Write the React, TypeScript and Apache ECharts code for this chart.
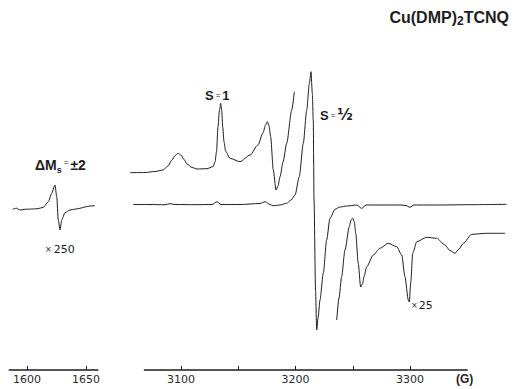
import React, { useEffect, useRef } from "react";
import * as echarts from "echarts";

// ΔMs = ±2 half-field line (×250), field in G, signal in arbitrary units
const halfField = [1587.9, 1591.0, 1594.1, 1599.0, 1605.3, 1609.5, 1613.8, 1618.1, 1620.9, 1623.7, 1625.2, 1626.5, 1628.0, 1629.4, 1632.2, 1636.4, 1640.5, 1644.9, 1649.0, 1653.4, 1657.6];
const halfSignal = [-5.3, -4.2, -6.0, -5.2, -5.0, -4.6, -3.3, 2.3, 10.7, 19.0, 7.3, -16.0, -26.0, -16.0, -8.7, -6.0, -5.2, -4.3, -3.0, -2.0, -1.7];

// S = 1 region, ×25 trace (low-field part)
const gainLowField = [3055.5, 3068.6, 3077.3, 3084.3, 3088.6, 3092.1, 3094.8, 3097.4, 3100.0, 3102.6, 3105.2, 3109.6, 3114.0, 3122.7, 3127.9, 3129.7, 3131.0, 3132.3, 3133.6, 3134.7, 3135.5, 3136.4, 3137.6, 3138.9, 3142.8, 3151.5, 3160.3, 3167.2, 3171.6, 3173.8, 3175.4, 3176.9, 3178.3, 3180.6, 3183.0, 3184.7, 3186.5, 3189.1, 3192.3, 3196.7, 3199.0];
const gainLowSignal = [31.3, 31.5, 32.5, 34.0, 38.0, 44.0, 48.5, 50.7, 49.0, 44.5, 40.0, 36.5, 35.0, 35.3, 37.3, 42.0, 52.0, 77.3, 94.0, 100.7, 94.0, 77.3, 62.0, 53.0, 45.7, 42.3, 49.0, 59.0, 71.0, 79.0, 82.3, 78.0, 67.3, 34.0, 14.0, 18.0, 27.3, 42.0, 60.7, 94.0, 112.3];

// ×1 trace (S = 1/2 line)
const mainField = [3058.1, 3072.9, 3086.0, 3090.4, 3094.8, 3112.2, 3127.1, 3131.4, 3134.9, 3151.5, 3169.0, 3173.4, 3177.7, 3180.3, 3186.5, 3192.3, 3196.1, 3199.6, 3203.3, 3206.8, 3209.8, 3212.1, 3213.5, 3214.7, 3215.5, 3216.2, 3217.5, 3218.5, 3219.7, 3221.4, 3224.3, 3227.2, 3230.1, 3234.5, 3238.9, 3244.7, 3253.5, 3257.8, 3261.6, 3273.8, 3291.3, 3296.5, 3300.0, 3303.5, 3326.2, 3352.4, 3384.4];
const mainSignal = [-0.5, -0.5, -0.8, 0.3, -0.5, -0.7, -0.5, 2.3, -0.5, -0.5, 0.5, 2.3, -0.5, -1.7, -1.0, 0.7, 4.0, 9.0, 27.3, 60.7, 94.0, 120.7, 132.3, 110.7, 84.0, 4.0, -86.0, -126.0, -114.0, -96.0, -69.0, -36.0, -14.3, -5.3, -3.0, -2.0, -1.0, -4.3, -1.0, -1.0, -1.0, -1.5, -3.3, -1.0, -1.0, -0.7, -0.3];

// ×25 trace (high-field part)
const gainHighField = [3236.0, 3238.0, 3240.3, 3243.2, 3247.0, 3248.5, 3250.0, 3251.4, 3252.6, 3254.8, 3256.9, 3258.5, 3259.8, 3262.2, 3268.0, 3273.8, 3281.0, 3288.4, 3292.8, 3295.6, 3298.5, 3299.4, 3300.6, 3302.4, 3305.9, 3314.6, 3323.3, 3330.6, 3334.9, 3339.3, 3342.8, 3346.6, 3353.9, 3367.0, 3383.0];
const gainHighSignal = [-116.0, -94.0, -72.7, -46.0, -22.7, -16.0, -14.3, -18.0, -29.3, -59.3, -83.0, -80.0, -73.0, -62.7, -51.0, -44.3, -39.3, -42.7, -51.0, -72.7, -96.0, -98.0, -79.3, -49.3, -37.7, -33.3, -34.3, -41.0, -46.5, -49.3, -45.0, -39.3, -30.3, -29.3, -29.3];

// Axis ticks and labels
const halfTicks = [1600, 1650];
const mainTicks = [3100, 3150, 3200, 3250, 3300];
const mainTickLabels = [3100, 3200, 3300];

const zip = (xs: number[], ys: number[]) => xs.map((x, i) => [x, ys[i]]);

const INK = "#1e1e1e";
const TOP = 54;
const HEIGHT = 316;
const YMIN = -166;
const YMAX = 150;

const boldFont = "Liberation Sans, Arial, sans-serif";
const tickFont = "DejaVu Sans, sans-serif";

export default function App() {
  const ref = useRef<HTMLDivElement>(null);
  useEffect(() => {
    if (!ref.current) return;
    const chart = echarts.init(ref.current, null, { renderer: "svg" });
    const lineSeries = (data: number[][], axis: number) => ({
      type: "line",
      xAxisIndex: axis,
      yAxisIndex: axis,
      data,
      symbol: "none",
      showSymbol: false,
      smooth: 0.25,
      smoothMonotone: "x",
      clip: false,
      lineStyle: { color: INK, width: 1 },
      itemStyle: { color: INK },
      silent: true,
    });
    const yAxisBase = { type: "value", min: YMIN, max: YMAX, show: false };
    const fieldAxis = (grid: number, min: number, max: number, ticks: number[], labels: number[]) => ({
      type: "value",
      gridIndex: grid,
      min,
      max,
      axisLine: { show: true, onZero: false, lineStyle: { color: INK, width: 1.5 } },
      axisTick: { show: true, inside: true, length: 4, customValues: ticks, lineStyle: { color: INK, width: 1 } },
      axisLabel: {
        show: true,
        customValues: labels,
        margin: 4,
        color: "#2a2a2a",
        fontSize: 11,
        fontFamily: tickFont,
        formatter: (v: number) => String(v),
      },
      splitLine: { show: false },
    });
    const option: any = {
      animation: false,
      backgroundColor: "#ffffff",
      grid: [
        { left: 9.3, width: 88.5, top: TOP, height: HEIGHT, outerBoundsMode: "none" },
        { left: 129.5, width: 377.8, top: TOP, height: HEIGHT, outerBoundsMode: "none" },
        { left: 144.4, width: 322.9, top: TOP, height: HEIGHT, outerBoundsMode: "none" },
      ],
      xAxis: [
        fieldAxis(0, 1585, 1660, halfTicks, halfTicks),
        { type: "value", gridIndex: 1, min: 3055, max: 3385, show: false },
        fieldAxis(2, 3068, 3350, mainTicks, mainTickLabels),
      ],
      yAxis: [
        { ...yAxisBase, gridIndex: 0 },
        { ...yAxisBase, gridIndex: 1 },
        { ...yAxisBase, gridIndex: 2 },
      ],
      series: [
        lineSeries(zip(halfField, halfSignal), 0),
        lineSeries(zip(gainLowField, gainLowSignal), 1),
        lineSeries(zip(mainField, mainSignal), 1),
        lineSeries(zip(gainHighField, gainHighSignal), 1),
      ],
      graphic: [
        {
          type: "text",
          x: 509,
          y: 18,
          style: {
            text: "{a|Cu(DMP)}{s|2}{a|TCNQ}",
            textAlign: "right",
            textVerticalAlign: "middle",
            rich: {
              a: { fontSize: 16, fontWeight: "bold", fontFamily: boldFont, fill: INK, lineHeight: 18, verticalAlign: "top" },
              s: { fontSize: 12, fontWeight: "bold", fontFamily: boldFont, fill: INK, lineHeight: 12, padding: [10, 0, 0, 0], verticalAlign: "bottom" },
            },
          },
        },
        {
          type: "text",
          x: 205,
          y: 95,
          style: {
            text: "{b|S}{e|=}{b|1}",
            textVerticalAlign: "middle",
            rich: {
              b: { fontSize: 13, fontWeight: "bold", fontFamily: boldFont, fill: INK },
              e: { fontSize: 8, fontFamily: boldFont, fill: INK, padding: [0, 2, 0, 2] },
            },
          },
        },
        {
          type: "text",
          x: 320,
          y: 115,
          style: {
            text: "{b|S}{e|=}{f|½}",
            textVerticalAlign: "middle",
            rich: {
              b: { fontSize: 13, fontWeight: "bold", fontFamily: boldFont, fill: INK },
              e: { fontSize: 8, fontFamily: boldFont, fill: INK, padding: [0, 2, 0, 2] },
              f: { fontSize: 15, fontWeight: "bold", fontFamily: "DejaVu Sans, sans-serif", fill: INK },
            },
          },
        },
        {
          type: "text",
          x: 35,
          y: 166,
          style: {
            text: "{b|ΔM}{s|s}{e|=}{b|±2}",
            textVerticalAlign: "middle",
            rich: {
              b: { fontSize: 14, fontWeight: "bold", fontFamily: boldFont, fill: INK, lineHeight: 16, verticalAlign: "top" },
              s: { fontSize: 9, fontWeight: "bold", fontFamily: boldFont, fill: INK, lineHeight: 9, padding: [9, 0, 0, 0], verticalAlign: "bottom" },
              e: { fontSize: 8, fontFamily: boldFont, fill: INK, padding: [0, 2, 0, 2], lineHeight: 16, verticalAlign: "top" },
            },
          },
        },
        {
          type: "text",
          x: 45,
          y: 249,
          style: {
            text: "{x|×}{n|250}",
            textVerticalAlign: "middle",
            rich: {
              x: { fontSize: 8, fontFamily: tickFont, fill: INK, padding: [0, 2, 0, 0] },
              n: { fontSize: 11, fontFamily: tickFont, fill: INK },
            },
          },
        },
        {
          type: "text",
          x: 411,
          y: 305,
          style: {
            text: "{x|×}{n|25}",
            textVerticalAlign: "middle",
            rich: {
              x: { fontSize: 8, fontFamily: tickFont, fill: INK, padding: [0, 1, 0, 0] },
              n: { fontSize: 11, fontFamily: tickFont, fill: INK },
            },
          },
        },
        {
          type: "text",
          x: 456,
          y: 379,
          style: {
            text: "(G)",
            textVerticalAlign: "middle",
            fontSize: 12,
            fontWeight: "bold",
            fontFamily: boldFont,
            fill: INK,
          },
        },
      ],
    };
    chart.setOption(option);
    return () => chart.dispose();
  }, []);
  return <div ref={ref} style={{ position: "fixed", left: 0, top: 0, width: 515, height: 389 }} />;
}
